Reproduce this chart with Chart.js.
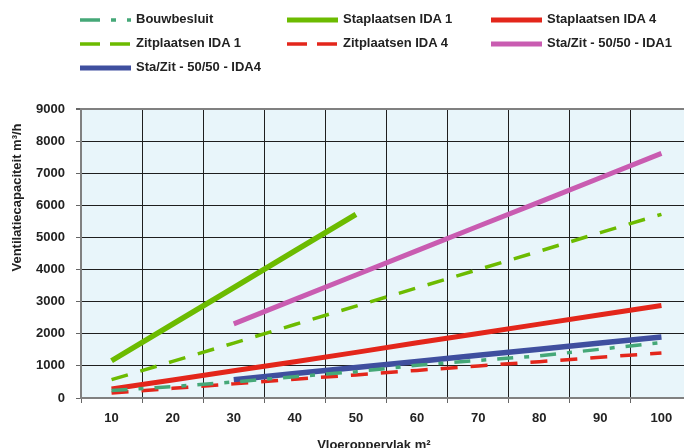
<!DOCTYPE html>
<html>
<head>
<meta charset="utf-8">
<script src="https://cdn.jsdelivr.net/npm/chart.js"></script>
<style>
    html, body { margin: 0; padding: 0; background: #fff; overflow: hidden; }
    #wrap { position: relative; width: 684px; height: 448px; overflow: hidden; }
    #chart { position: absolute; left: 0; top: 0; }
    .item { position: absolute; height: 16px; font: bold 13px "Liberation Sans", Arial, sans-serif; color: #222; white-space: nowrap; }
    .item svg { position: absolute; left: 0; top: 0; }
    .item span { position: absolute; left: 56px; top: 0; line-height: 16px; }
</style>
</head>
<body>
<div id="wrap">
    <canvas id="chart" width="700" height="448"></canvas>
    <div id="legend"></div>
</div>
<script>
////// data
const areas = ["10", "20", "30", "40", "50", "60", "70", "80", "90", "100"];
const bouwbesluit = [230, 355, 500, 665, 820, 1020, 1170, 1310, 1520, 1730];
const staIda1 = [1160, 2300, 3440, 4580, 5720, null, null, null, null, null];
const staIda4 = [280, 560, 850, 1130, 1420, 1720, 2010, 2300, 2590, 2880];
const zitIda1 = [570, 1140, 1710, 2290, 2860, 3430, 4000, 4570, 5150, 5720];
const zitIda4 = [155, 300, 440, 585, 720, 860, 1000, 1130, 1270, 1400];
const mixIda1 = [null, null, 2310, 3070, 3830, 4590, 5350, 6100, 6860, 7620];
const mixIda4 = [null, null, 570, 760, 950, 1140, 1330, 1520, 1710, 1900];
const yTicks = [0, 1000, 2000, 3000, 4000, 5000, 6000, 7000, 8000, 9000];

const font = "'Liberation Sans', Arial, sans-serif";

function line(label, data, color, width, dash, legendDash){
    return {
        label: label,
        data: data,
        borderColor: color,
        backgroundColor: color,
        borderWidth: width,
        borderDash: dash,
        legendDash: legendDash,
        pointRadius: 0,
        tension: 0,
        spanGaps: false,
        fill: false
    };
}

const datasets = [
    line("Bouwbesluit", bouwbesluit, "#45a878", 3.5, [16, 11, 5, 11], "20 11 5 11 5"),
    line("Staplaatsen IDA 1", staIda1, "#6cbb00", 5.5, [], ""),
    line("Staplaatsen IDA 4", staIda4, "#e3261b", 5, [], ""),
    line("Zitplaatsen IDA 1", zitIda1, "#6cbb00", 3.5, [17, 13], "20 10"),
    line("Zitplaatsen IDA 4", zitIda4, "#e3261b", 3.5, [17, 13], "20 10"),
    line("Sta/Zit - 50/50 - IDA1", mixIda1, "#c95cb1", 5, [], ""),
    line("Sta/Zit - 50/50 - IDA4", mixIda4, "#3f4f9f", 5.5, [], "")
];

////// plot background
const plotBg = {
    id: "plotBg",
    beforeDraw(chart){
        const a = chart.chartArea;
        const ctx = chart.ctx;
        ctx.save();
        ctx.fillStyle = "#e8f5fa";
        ctx.fillRect(a.left, a.top, a.right - a.left, a.bottom - a.top);
        ctx.restore();
    }
};

new Chart(document.getElementById("chart"), {
    type: "line",
    data: { labels: areas, datasets: datasets },
    plugins: [plotBg],
    options: {
        responsive: false,
        animation: false,
        layout: { padding: { top: 109, right: 8, bottom: 0, left: 0 } },
        plugins: { legend: { display: false }, tooltip: { enabled: false } },
        scales: {
            x: {
                type: "category",
                offset: true,
                grid: { offset: true, color: "#1e1e1e", lineWidth: 1, tickLength: 5, tickColor: "#666" },
                border: { color: "#808080", width: 2 },
                ticks: { color: "#222", padding: 8, font: { family: font, size: 13, weight: "bold" } },
                title: { display: true, text: "Vloeroppervlak m²\u00a0\u00a0\u00a0\u00a0\u00a0\u00a0\u00a0", color: "#222",
                         padding: { top: 0, bottom: -5 }, font: { family: font, size: 13, weight: "bold" } },
                afterFit(scale){ scale.height = 50; }
            },
            y: {
                min: 0,
                max: 9000,
                afterBuildTicks(scale){ scale.ticks = yTicks.map(v => ({ value: v })); },
                grid: {
                    color: ctx => ctx.tick && ctx.tick.value === 9000 ? "#808080" : "#1e1e1e",
                    lineWidth: ctx => ctx.tick && ctx.tick.value === 9000 ? 2 : 1,
                    tickLength: 5,
                    tickColor: "#666"
                },
                border: { color: "#808080", width: 2 },
                ticks: { color: "#222", padding: 11, callback: v => String(v),
                         font: { family: font, size: 13, weight: "bold" } },
                title: { display: true, align: "end", text: "Ventilatiecapaciteit m³/h\u00a0\u00a0\u00a0\u00a0", color: "#222",
                         padding: { top: 10, bottom: 0 }, font: { family: font, size: 13, weight: "bold" } },
                afterFit(scale){ scale.width = 81; }
            }
        }
    }
});

////// legend in three columns
let colX = [80, 287, 491];
let rowY = [11, 35, 59];
let cartona = ``;
datasets.forEach(function(ds, i){
    let col = i % 3;
    let row = Math.floor(i / 3);
    cartona += `
        <div class="item" style="left:${colX[col]}px; top:${rowY[row]}px;">
            <svg width="52" height="16"><line x1="0" y1="9" x2="51" y2="9" stroke="${ds.borderColor}"
                stroke-width="${ds.borderWidth > 4 ? 5 : 3.5}" stroke-dasharray="${ds.legendDash}"/></svg>
            <span>${ds.label}</span>
        </div>`;
});
document.getElementById("legend").innerHTML = cartona;
</script>
</body>
</html>
